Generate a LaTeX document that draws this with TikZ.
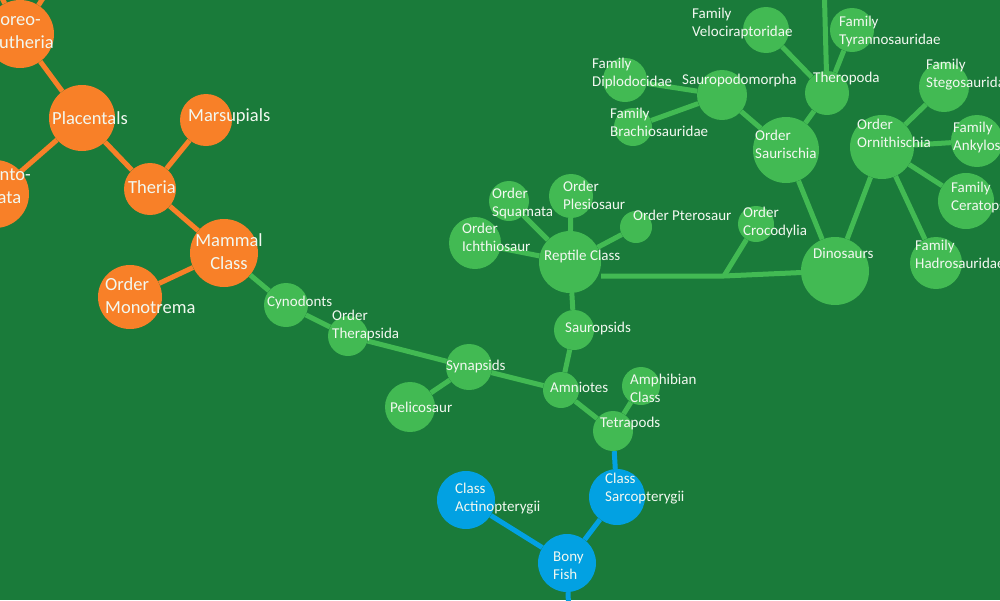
\documentclass[tikz,border=0pt]{standalone}
\usepackage{fontspec}
\setmainfont{Carlito}
\usetikzlibrary{positioning}

\definecolor{bgreen}{RGB}{26,123,58}
\definecolor{leaf}{RGB}{66,186,83}
\definecolor{tangerine}{RGB}{248,128,40}
\definecolor{sky}{RGB}{2,161,226}
\definecolor{chalk}{RGB}{242,248,240}

\begin{document}
\begin{tikzpicture}[
    x=1pt, y=-1pt,
    dot/.style={circle, inner sep=0pt, minimum size=#1pt},
    odot/.style={dot=#1, fill=tangerine},
    gdot/.style={dot=#1, fill=leaf},
    bdot/.style={dot=#1, fill=sky},
    edge/.style={line width=5pt},
    oedge/.style={edge, draw=tangerine},
    gedge/.style={edge, draw=leaf},
    bedge/.style={edge, draw=sky},
    lbl/.style={anchor=west, inner sep=0pt, align=left, text=chalk,
        font=\fontsize{15}{18}\selectfont},
    biglbl/.style={lbl, font=\fontsize{18.5}{23}\selectfont}
]
\useasboundingbox (0,0) rectangle (1000,600);
\clip (0,0) rectangle (1000,600);
\fill[bgreen] (0,0) rectangle (1000,600);

% mammals
\node[odot=68] (boreo) at (20,34) {};
\node[odot=66] (placentals) at (82,118) {};
\node[odot=68] (atlanto) at (-5,194) {};
\node[odot=52] (marsupials) at (206,120) {};
\node[odot=52] (theria) at (150,189) {};
\node[odot=68] (mammal) at (224,253) {};
\node[odot=64] (monotrema) at (130,297) {};

% synapsids and reptiles
\node[gdot=44] (cynodonts) at (286,305) {};
\node[gdot=40] (therapsida) at (348,336) {};
\node[gdot=46] (synapsids) at (469,367) {};
\node[gdot=50] (pelicosaur) at (410,407) {};
\node[gdot=36] (amniotes) at (561,390) {};
\node[gdot=40] (sauropsids) at (574,330) {};
\node[gdot=38] (amphibian) at (641,386) {};
\node[gdot=40] (tetrapods) at (613,431) {};
\node[gdot=62] (reptile) at (570,262) {};
\node[gdot=52] (ichthio) at (475,243) {};
\node[gdot=40] (squamata) at (509,201) {};
\node[gdot=44] (plesio) at (571,196) {};
\node[gdot=32] (ptero) at (636,227) {};
\node[gdot=36] (croco) at (756,224) {};

% dinosaurs
\node[gdot=68] (dino) at (835,271) {};
\node[gdot=66] (saurischia) at (786,150) {};
\node[gdot=50] (sauropodo) at (722,95) {};
\node[gdot=44] (diplo) at (625,80) {};
\node[gdot=38] (brachio) at (633,127) {};
\node[gdot=44] (theropoda) at (827,93) {};
\node[gdot=46] (veloci) at (766,30) {};
\node[gdot=44] (tyranno) at (852,30) {};
\node[gdot=64] (ornith) at (882,147) {};
\node[gdot=50] (stego) at (944,87) {};
\node[gdot=52] (ankylo) at (977,141) {};
\node[gdot=56] (cerato) at (966,201) {};
\node[gdot=52] (hadro) at (936,263) {};

% fish
\node[bdot=56] (sarco) at (617,497) {};
\node[bdot=58] (actino) at (466,500) {};
\node[bdot=58] (bony) at (567,563) {};

\coordinate (boreo-up1) at (-8,-22);
\coordinate (boreo-up2) at (56,-22);
\coordinate (thero-up) at (824,-20);
\coordinate (fish-down) at (569,620);
\coordinate (jct) at (724,276);

\draw[oedge] (boreo) -- (boreo-up1);
\draw[oedge] (boreo) -- (boreo-up2);
\draw[oedge] (boreo) -- (placentals);
\draw[oedge] (placentals) -- (atlanto);
\draw[oedge] (placentals) -- (theria);
\draw[oedge] (theria) -- (marsupials);
\draw[oedge] (theria) -- (mammal);
\draw[oedge] (mammal) -- (monotrema);

\draw[gedge] (mammal) -- (cynodonts);
\draw[gedge] (cynodonts) -- (therapsida);
\draw[gedge] (therapsida) -- (synapsids);
\draw[gedge] (synapsids) -- (pelicosaur);
\draw[gedge] (synapsids) -- (amniotes);
\draw[gedge] (amniotes) -- (sauropsids);
\draw[gedge] (amniotes) -- (tetrapods);
\draw[gedge] (tetrapods) -- (amphibian);
\draw[gedge] (sauropsids) -- (reptile);
\draw[gedge] (reptile) -- (ichthio);
\draw[gedge] (reptile) -- (squamata);
\draw[gedge] (reptile) -- (plesio);
\draw[gedge] (reptile) -- (ptero);
\draw[gedge] (reptile.east |- jct) -- (jct) -- (dino);
\draw[gedge] (croco) -- (jct);
\draw[gedge] (dino) -- (saurischia);
\draw[gedge] (dino) -- (ornith);
\draw[gedge] (saurischia) -- (sauropodo);
\draw[gedge] (saurischia) -- (theropoda);
\draw[gedge] (sauropodo) -- (diplo);
\draw[gedge] (sauropodo) -- (brachio);
\draw[gedge] (theropoda) -- (veloci);
\draw[gedge] (theropoda) -- (tyranno);
\draw[gedge] (theropoda) -- (thero-up);
\draw[gedge] (ornith) -- (stego);
\draw[gedge] (ornith) -- (ankylo);
\draw[gedge] (ornith) -- (cerato);
\draw[gedge] (ornith) -- (hadro);

\draw[bedge] (tetrapods) -- (sarco);
\draw[bedge] (sarco) -- (bony);
\draw[bedge] (actino) -- (bony);
\draw[bedge] (bony) -- (fish-down);

% labels
\node[biglbl] (boreo-t) at (-10,31) {Boreo-\\Eutheria};
\node[biglbl] (placentals-t) at (52,118) {Placentals};
\node[biglbl] (atlanto-t) at (-30,187) {Atlanto-\\genata};
\node[biglbl] (marsupials-t) at (188,117) {Marsupials};
\node[biglbl] (theria-t) at (128,187) {Theria};
\node[biglbl, anchor=center, align=center] (mammal-t) at (229,252) {Mammal\\Class};
\node[biglbl] (monotrema-t) at (105,296) {Order\\Monotrema};

\node[lbl] (cynodonts-t) at (267,302) {Cynodonts};
\node[lbl] (therapsida-t) at (332,325) {Order\\Therapsida};
\node[lbl] (synapsids-t) at (446,366) {Synapsids};
\node[lbl] (pelicosaur-t) at (390,407) {Pelicosaur};
\node[lbl] (amniotes-t) at (550,387) {Amniotes};
\node[lbl] (sauropsids-t) at (565,328) {Sauropsids};
\node[lbl] (amphibian-t) at (630,388) {Amphibian\\Class};
\node[lbl] (tetrapods-t) at (600,423) {Tetrapods};
\node[lbl] (reptile-t) at (544,256) {Reptile Class};
\node[lbl] (ichthio-t) at (462,237) {Order\\Ichthiosaur};
\node[lbl] (squamata-t) at (492,203) {Order\\Squamata};
\node[lbl] (plesio-t) at (563,195) {Order\\Plesiosaur};
\node[lbl] (ptero-t) at (633,215) {Order Pterosaur};
\node[lbl] (croco-t) at (743,222) {Order\\Crocodylia};
\node[lbl] (dino-t) at (813,253) {Dinosaurs};
\node[lbl] (saurischia-t) at (755,144) {Order\\Saurischia};
\node[lbl] (sauropodo-t) at (682,80) {Sauropodomorpha};
\node[lbl] (diplo-t) at (592,73) {Family\\Diplodocidae};
\node[lbl] (brachio-t) at (610,122) {Family\\Brachiosauridae};
\node[lbl] (theropoda-t) at (813,78) {Theropoda};
\node[lbl] (veloci-t) at (692,23) {Family\\Velociraptoridae};
\node[lbl] (tyranno-t) at (839,31) {Family\\Tyrannosauridae};
\node[lbl] (ornith-t) at (857,133) {Order\\Ornithischia};
\node[lbl] (stego-t) at (926,75) {Family\\Stegosauridae};
\node[lbl] (ankylo-t) at (953,137) {Family\\Ankylosauridae};
\node[lbl] (cerato-t) at (951,197) {Family\\Ceratopsidae};
\node[lbl] (hadro-t) at (915,254) {Family\\Hadrosauridae};

\node[lbl] (sarco-t) at (605,489) {Class\\Sarcopterygii};
\node[lbl] (actino-t) at (455,499) {Class\\Actinopterygii};
\node[lbl] (bony-t) at (553,566) {Bony\\Fish};
\end{tikzpicture}
\end{document}
